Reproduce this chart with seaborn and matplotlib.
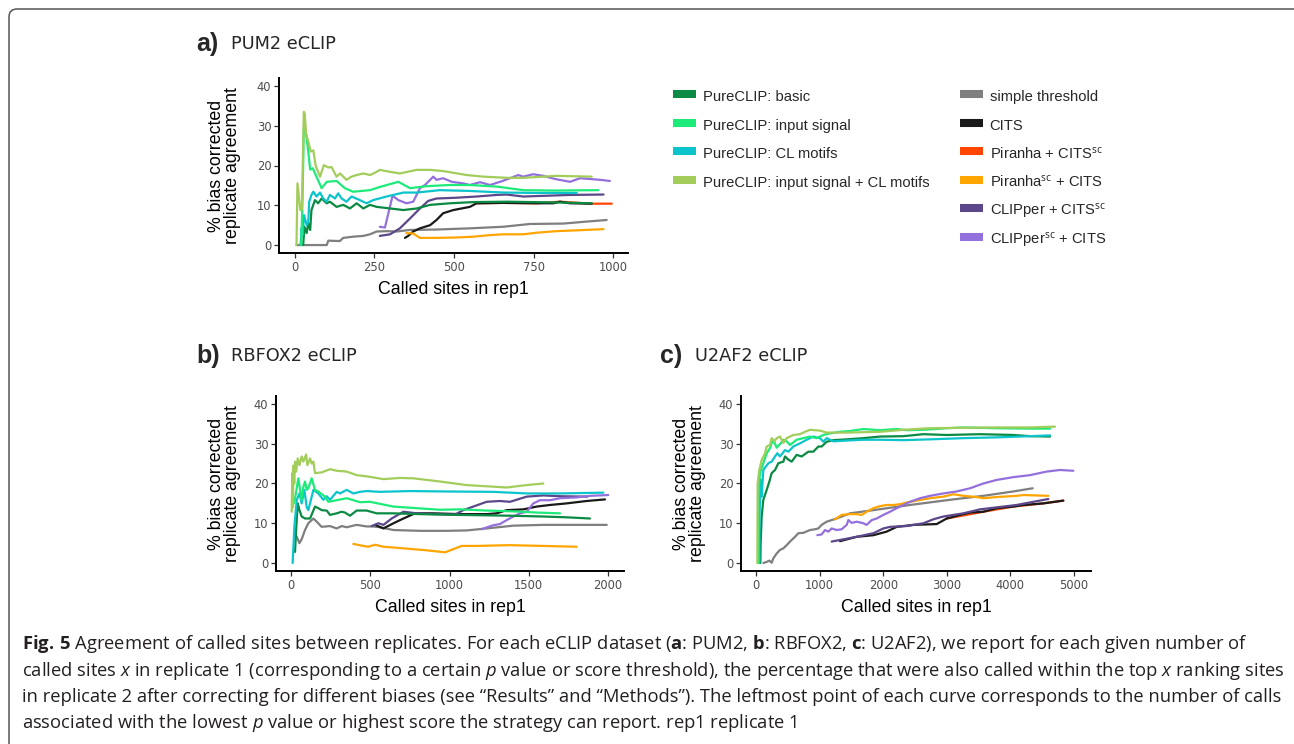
import pandas as pd
import matplotlib
matplotlib.use('Agg')
import matplotlib.pyplot as plt
from matplotlib.lines import Line2D
from matplotlib.patches import FancyBboxPatch
from matplotlib.transforms import IdentityTransform
import seaborn as sns

W, H = 1294, 744

# legend labels and colours
METHODS = ['PureCLIP: basic', 'PureCLIP: input signal', 'PureCLIP: CL motifs',
           'PureCLIP: input signal + CL motifs', 'simple threshold', 'CITS',
           'Piranha + CITS$^{\\mathrm{sc}}$', 'Piranha$^{\\mathrm{sc}}$ + CITS',
           'CLIPper + CITS$^{\\mathrm{sc}}$', 'CLIPper$^{\\mathrm{sc}}$ + CITS']
COLORS = ['#0A8A42', '#1DEB79', '#0BC4CC', '#A3CD5B', '#7F7F7F', '#1A1A1A',
          '#FF4500', '#FFA500', '#5D478B', '#9370DB']
# order in which the curves are drawn (later on top)
DRAW_ORDER = [4, 6, 5, 7, 8, 9, 0, 2, 1, 3]

# ---- a) PUM2 ----
pum2_basic_x = [26, 30, 37, 42, 48, 52, 63, 73, 84, 100, 110, 131, 152, 173, 194, 215, 236, 257, 299, 341, 383, 425, 487, 561, 666, 823, 933]
pum2_basic_y = [0, 4.6, 3.0, 5.5, 3.8, 8.8, 11.3, 10.5, 11.7, 10.5, 10.9, 9.6, 10.1, 9.2, 10.5, 9.2, 10.1, 9.6, 9.2, 8.8, 9.2, 10.1, 10.5, 10.8, 10.9, 10.7, 10.5]
pum2_input_x = [20, 24, 28, 35, 42, 48, 56, 84, 100, 131, 157, 183, 236, 267, 325, 362, 414, 487, 550, 634, 718, 812, 954]
pum2_input_y = [0, 12, 29.3, 28, 23.5, 19, 19.3, 14.3, 15.9, 16.1, 14.3, 13.4, 13.8, 14.6, 15.9, 14.3, 14.8, 15.1, 15.1, 14.7, 13.8, 13.7, 13.8]
pum2_cl_x = [18, 21, 24, 29, 37, 42, 45, 52, 58, 68, 79, 89, 100, 110, 126, 136, 147, 162, 178, 204, 225, 246, 288, 341, 383, 456, 550, 655, 760, 886]
pum2_cl_y = [0, 4.2, 2.5, 7.5, 5.0, 5.9, 10.9, 12.6, 13.4, 12.2, 13.2, 11.7, 10.9, 12.6, 11.7, 13.0, 11.7, 10.9, 12.2, 11.3, 10.5, 11.3, 12.2, 13.2, 13.2, 13.8, 13.6, 13.2, 13.1, 13.1]
pum2_both_x = [5, 8, 17, 22, 28, 31, 35, 42, 50, 58, 65, 79, 91, 105, 115, 131, 142, 162, 178, 194, 215, 236, 257, 267, 299, 330, 383, 425, 466, 540, 592, 666, 718, 823, 933]
pum2_both_y = [0, 15.5, 8.8, 9.0, 33.5, 33.0, 28, 26, 23.5, 23.8, 20, 17.2, 20.1, 19.5, 19.6, 17.2, 18.0, 16.4, 17.2, 17.6, 18.0, 17.6, 18.4, 18.9, 18.4, 18.0, 18.9, 18.9, 18.6, 17.6, 17.2, 16.9, 16.9, 17.4, 17.2]
pum2_simple_x = [5, 100, 105, 141, 152, 183, 215, 236, 257, 288, 320, 362, 445, 550, 655, 739, 844, 917, 980]
pum2_simple_y = [0, 0, 1.1, 1.0, 1.8, 2.1, 2.3, 2.7, 3.4, 3.5, 3.4, 3.8, 3.9, 4.2, 4.6, 5.3, 5.4, 5.9, 6.3]
pum2_cits_x = [346, 356, 372, 393, 425, 445, 466, 498, 524, 550, 571, 655, 760, 812, 833, 865, 933]
pum2_cits_y = [1.8, 2.3, 3.4, 4.2, 5.0, 6.3, 8.0, 8.8, 9.2, 9.6, 10.5, 10.6, 10.5, 10.5, 10.9, 10.5, 10.4]
pum2_piranha_x = [571, 655, 760, 833, 933, 996]
pum2_piranha_y = [10.5, 10.6, 10.5, 10.9, 10.4, 10.4]
pum2_piranha_sc_x = [350, 372, 393, 445, 508, 561, 613, 655, 718, 760, 823, 886, 970]
pum2_piranha_sc_y = [3.0, 2.9, 1.8, 1.8, 1.9, 2.1, 2.5, 2.7, 2.7, 3.1, 3.5, 3.7, 4.0]
pum2_clipper_x = [267, 299, 330, 362, 393, 419, 445, 508, 571, 634, 665, 718, 791, 865, 970]
pum2_clipper_y = [2.3, 2.7, 4.2, 6.7, 9.2, 11.1, 11.7, 11.9, 12.2, 12.6, 12.7, 12.2, 12.4, 12.6, 12.7]
pum2_clipper_sc_x = [267, 283, 307, 325, 351, 372, 393, 409, 435, 445, 466, 493, 529, 550, 582, 613, 645, 676, 702, 718, 749, 781, 818, 865, 896, 928, 959, 990]
pum2_clipper_sc_y = [4.6, 4.4, 12.4, 11.3, 10.5, 10.9, 14.3, 15.1, 17.2, 16.4, 16.8, 15.9, 15.5, 15.1, 15.8, 15.1, 15.9, 16.8, 17.6, 17.2, 17.8, 17.4, 16.6, 15.9, 16.8, 16.6, 16.4, 16.1]

# ---- b) RBFOX2 ----
rbfox2_basic_x = [25, 32, 42, 53, 67, 88, 120, 151, 172, 193, 225, 246, 288, 319, 340, 372, 414, 477, 540, 645, 813, 1066, 1382, 1592, 1739, 1886]
rbfox2_basic_y = [2.8, 8.3, 15.0, 13.3, 11.7, 11.2, 11.2, 14.2, 13.8, 13.3, 13.2, 12.1, 12.5, 12.9, 12.7, 11.9, 13.2, 13.2, 12.5, 12.5, 12.3, 12.1, 11.9, 11.7, 11.5, 11.2]
rbfox2_input_x = [20, 46, 67, 78, 88, 99, 109, 130, 151, 172, 214, 235, 288, 351, 435, 498, 645, 792, 940, 1066, 1234, 1403, 1550, 1697]
rbfox2_input_y = [15, 21.3, 15.9, 19.2, 20.5, 18.4, 18.8, 21.3, 18.4, 18.0, 16.7, 15.4, 15.8, 16.3, 15.3, 15.4, 14.2, 13.8, 13.4, 13.5, 13.2, 13.0, 12.7, 12.5]
rbfox2_cl_x = [10, 21, 36, 53, 67, 84, 99, 109, 141, 172, 204, 225, 246, 288, 309, 351, 393, 435, 477, 561, 750, 961, 1276, 1487, 1697, 1971]
rbfox2_cl_y = [0, 9.1, 15.9, 17.5, 15.0, 18.4, 14.0, 13.3, 18.4, 17.5, 15.9, 16.8, 15.9, 17.9, 17.5, 18.4, 17.5, 17.9, 18.1, 17.9, 18.1, 18.0, 17.9, 17.5, 17.5, 17.7]
rbfox2_both_x = [4, 8, 12, 15, 20, 25, 32, 42, 53, 67, 78, 95, 103, 120, 130, 141, 151, 193, 246, 288, 351, 414, 477, 583, 688, 772, 940, 1108, 1234, 1361, 1487, 1592]
rbfox2_both_y = [12.9, 22.6, 14, 24.5, 20, 25.5, 23.0, 26.3, 24.6, 26.8, 25.5, 27.3, 24.6, 26.3, 25.0, 25.5, 22.6, 22.8, 23.6, 23.2, 23.0, 22.1, 21.8, 21.1, 21.4, 21.3, 20.5, 19.6, 19.3, 19.0, 19.6, 20.0]
rbfox2_simple_x = [36, 53, 67, 88, 109, 141, 162, 193, 246, 288, 320, 351, 414, 477, 519, 561, 646, 814, 982, 1108, 1234, 1403, 1592, 1802, 1992]
rbfox2_simple_y = [6.6, 5.0, 6.0, 8.3, 10.0, 11.2, 10.4, 9.1, 9.3, 8.7, 9.3, 9.0, 9.6, 9.2, 9.2, 9.0, 8.3, 8.1, 8.1, 8.2, 8.7, 9.4, 9.6, 9.6, 9.6]
rbfox2_cits_x = [530, 583, 646, 709, 782, 898, 1066, 1234, 1297, 1361, 1466, 1550, 1634, 1739, 1865, 1981]
rbfox2_cits_y = [9.6, 8.7, 10.0, 11.2, 12.5, 12.5, 12.3, 12.3, 12.5, 13.3, 13.5, 14.2, 14.6, 15.0, 15.6, 16.0]
rbfox2_piranha_sc_x = [393, 456, 488, 530, 583, 709, 856, 972, 1077, 1171, 1276, 1382, 1487, 1802]
rbfox2_piranha_sc_y = [4.8, 4.3, 4.1, 4.6, 4.1, 3.7, 3.2, 2.7, 4.3, 4.3, 4.4, 4.5, 4.4, 4.1]
rbfox2_clipper_x = [509, 551, 583, 635, 709, 793, 898, 1035, 1087, 1150, 1234, 1318, 1382, 1487, 1592, 1697, 1870]
rbfox2_clipper_y = [9.3, 10.0, 9.6, 11.2, 12.9, 12.5, 12.3, 12.2, 13.3, 14.2, 15.4, 15.6, 15.4, 16.7, 17.0, 16.8, 16.7]
rbfox2_clipper_sc_x = [1203, 1245, 1276, 1318, 1361, 1403, 1445, 1487, 1529, 1571, 1634, 1697, 1802, 1886, 2002]
rbfox2_clipper_sc_y = [8.5, 9.1, 9.5, 9.8, 10.8, 11.7, 12.5, 12.9, 15.0, 15.8, 15.8, 16.3, 16.5, 16.9, 17.1]

# ---- c) U2AF2 ----
u2af2_basic_x = [68, 73, 89, 115, 168, 210, 246, 299, 351, 430, 456, 508, 561, 639, 718, 823, 901, 980, 1032, 1111, 1216, 1426, 1688, 1950, 2317, 2631, 2998, 3522, 4046, 4308, 4623]
u2af2_basic_y = [0, 5, 11.7, 15.9, 18.4, 20.5, 22.6, 23.4, 25.1, 25.5, 26.8, 26.0, 25.5, 27.2, 26.8, 28.0, 28.0, 29.3, 29.3, 30.5, 30.9, 31.1, 31.4, 31.8, 31.9, 32.4, 32.2, 32.4, 32.2, 31.9, 31.8]
u2af2_input_x = [37, 40, 63, 115, 168, 220, 246, 273, 325, 377, 430, 482, 535, 639, 744, 849, 954, 1059, 1163, 1321, 1478, 1688, 1950, 2212, 2369, 2631, 2998, 3260, 3784, 4308, 4623]
u2af2_input_y = [0, 18, 22.6, 25.1, 27.6, 28.9, 30.1, 31.0, 29.0, 29.9, 31.0, 30.6, 29.7, 31.0, 31.4, 31.8, 31.4, 32.2, 32.6, 33.0, 33.2, 33.7, 33.4, 33.7, 33.4, 33.5, 33.9, 34.1, 33.9, 33.8, 33.8]
u2af2_cl_x = [52, 55, 73, 89, 115, 194, 246, 299, 335, 377, 456, 508, 587, 692, 797, 901, 1006, 1059, 1111, 1216, 1426, 1688, 1950, 2317, 2736, 3260, 3784, 4308, 4623]
u2af2_cl_y = [0, 12, 21.0, 16.7, 23.4, 25.1, 25.5, 26.8, 27.6, 26.8, 28.4, 28.0, 29.3, 30.1, 31.0, 31.8, 31.4, 30.5, 31.4, 30.6, 30.8, 31.0, 31.0, 30.9, 31.1, 31.4, 31.6, 31.9, 32.1]
u2af2_both_x = [21, 26, 52, 89, 142, 168, 220, 246, 288, 325, 377, 430, 482, 587, 692, 770, 849, 1006, 1111, 1426, 1688, 1950, 2317, 2736, 3260, 3784, 4308, 4701]
u2af2_both_y = [0, 20, 23.4, 25.9, 27.6, 29.3, 29.7, 31.4, 30.6, 31.4, 31.8, 30.2, 31.4, 32.2, 32.4, 33.0, 33.5, 33.3, 32.8, 32.8, 32.9, 33.0, 33.5, 33.9, 34.0, 34.1, 34.1, 34.3]
u2af2_simple_x = [115, 168, 210, 246, 273, 325, 377, 430, 482, 535, 613, 666, 744, 849, 928, 980, 1032, 1111, 1190, 1268, 1478, 1845, 2421, 3050, 3574, 4046, 4350]
u2af2_simple_y = [0, 0.3, 0.6, 0.1, 1.2, 2.4, 3.3, 3.7, 4.5, 5.4, 6.6, 7.5, 7.6, 8.3, 8.5, 8.7, 9.6, 10.4, 10.8, 11.2, 12.5, 13.3, 14.6, 15.9, 16.9, 18.0, 18.8]
u2af2_cits_x = [1321, 1583, 1845, 2054, 2212, 2474, 2841, 2998, 3208, 3365, 3574, 3784, 4046, 4203, 4518, 4832]
u2af2_cits_y = [5.5, 6.6, 7.0, 7.9, 9.1, 9.6, 9.8, 11.2, 12.1, 12.7, 12.9, 13.8, 14.2, 14.6, 15.0, 15.7]
u2af2_piranha_x = [2998, 3574, 4046, 4518, 4832]
u2af2_piranha_y = [11.2, 12.9, 14.2, 15.0, 15.7]
u2af2_piranha_sc_x = [1242, 1347, 1478, 1583, 1661, 1740, 1845, 1950, 2054, 2159, 2264, 2369, 2526, 2736, 2945, 3103, 3260, 3470, 3574, 3784, 4098, 4203, 4596]
u2af2_piranha_sc_y = [11.0, 12.1, 12.3, 12.3, 12.1, 12.9, 13.8, 14.3, 14.6, 14.6, 14.8, 15.2, 15.7, 16.3, 16.7, 17.3, 16.9, 16.6, 16.3, 16.6, 16.9, 17.1, 16.9]
u2af2_clipper_x = [1190, 1321, 1583, 1845, 2002, 2107, 2369, 2631, 2788, 2945, 3260, 3522, 3784, 4098, 4361, 4596]
u2af2_clipper_y = [5.4, 5.8, 6.6, 7.5, 8.7, 9.1, 9.3, 10.0, 11.0, 11.7, 12.5, 13.5, 14.0, 14.6, 15.4, 16.1]
u2af2_clipper_sc_x = [964, 1032, 1085, 1137, 1190, 1268, 1347, 1426, 1452, 1504, 1583, 1688, 1740, 1819, 1897, 2002, 2107, 2212, 2317, 2421, 2579, 2736, 2945, 3155, 3365, 3574, 3784, 4046, 4308, 4570, 4780, 4989]
u2af2_clipper_sc_y = [7.0, 7.2, 8.3, 7.9, 8.7, 8.3, 8.5, 9.6, 10.8, 10.1, 10.4, 10.0, 9.6, 10.8, 11.2, 12.1, 12.9, 13.8, 14.6, 15.4, 16.3, 16.9, 17.5, 18.0, 18.8, 20.0, 20.9, 21.6, 22.1, 23.0, 23.4, 23.2]

CAPTION = [
    '$\\mathbf{Fig.\\,5}$ Agreement of called sites between replicates. For each eCLIP dataset ($\\mathbf{a}$: PUM2, $\\mathbf{b}$: RBFOX2, $\\mathbf{c}$: U2AF2), we report for each given number of',
    'called sites $\\mathit{x}$ in replicate 1 (corresponding to a certain $\\mathit{p}$ value or score threshold), the percentage that were also called within the top $\\mathit{x}$ ranking sites',
    'in replicate 2 after correcting for different biases (see \u201cResults\u201d and \u201cMethods\u201d). The leftmost point of each curve corresponds to the number of calls',
    'associated with the lowest $\\mathit{p}$ value or highest score the strategy can report. rep1 replicate 1',
]


def make_frame(series):
    parts = []
    for idx, xs, ys in series:
        parts.append(pd.DataFrame({'sites': xs, 'agreement': ys, 'method': METHODS[idx]}))
    return pd.concat(parts, ignore_index=True)


pum2 = make_frame([
    (0, pum2_basic_x, pum2_basic_y), (1, pum2_input_x, pum2_input_y),
    (2, pum2_cl_x, pum2_cl_y), (3, pum2_both_x, pum2_both_y),
    (4, pum2_simple_x, pum2_simple_y), (5, pum2_cits_x, pum2_cits_y),
    (6, pum2_piranha_x, pum2_piranha_y), (7, pum2_piranha_sc_x, pum2_piranha_sc_y),
    (8, pum2_clipper_x, pum2_clipper_y), (9, pum2_clipper_sc_x, pum2_clipper_sc_y)])
rbfox2 = make_frame([
    (0, rbfox2_basic_x, rbfox2_basic_y), (1, rbfox2_input_x, rbfox2_input_y),
    (2, rbfox2_cl_x, rbfox2_cl_y), (3, rbfox2_both_x, rbfox2_both_y),
    (4, rbfox2_simple_x, rbfox2_simple_y), (5, rbfox2_cits_x, rbfox2_cits_y),
    (7, rbfox2_piranha_sc_x, rbfox2_piranha_sc_y),
    (8, rbfox2_clipper_x, rbfox2_clipper_y), (9, rbfox2_clipper_sc_x, rbfox2_clipper_sc_y)])
u2af2 = make_frame([
    (0, u2af2_basic_x, u2af2_basic_y), (1, u2af2_input_x, u2af2_input_y),
    (2, u2af2_cl_x, u2af2_cl_y), (3, u2af2_both_x, u2af2_both_y),
    (4, u2af2_simple_x, u2af2_simple_y), (5, u2af2_cits_x, u2af2_cits_y),
    (6, u2af2_piranha_x, u2af2_piranha_y), (7, u2af2_piranha_sc_x, u2af2_piranha_sc_y),
    (8, u2af2_clipper_x, u2af2_clipper_y), (9, u2af2_clipper_sc_x, u2af2_clipper_sc_y)])

sns.set_theme(style='ticks')
plt.rcParams['font.family'] = ['Liberation Sans', 'DejaVu Sans']
plt.rcParams['mathtext.fontset'] = 'custom'
plt.rcParams['mathtext.rm'] = 'Open Sans'
plt.rcParams['mathtext.it'] = 'Open Sans:italic'
plt.rcParams['mathtext.bf'] = 'Open Sans:bold'

palette = dict(zip(METHODS, COLORS))


def px_rect(left, top, right, bottom):
    return [left / W, 1 - bottom / H, (right - left) / W, (bottom - top) / H]


def draw_panel(fig, rect, df, xlim, xticks, letter, name, title_xy, ylab_x):
    ax = fig.add_axes(px_rect(*rect))
    order = [METHODS[i] for i in DRAW_ORDER if METHODS[i] in set(df['method'])]
    sns.lineplot(data=df, x='sites', y='agreement', hue='method', hue_order=order,
                 palette=palette, estimator=None, sort=False, linewidth=1.6,
                 legend=False, ax=ax)
    ax.set_xlim(*xlim)
    ax.set_ylim(-2, 42)
    ax.set_xticks(xticks)
    ax.set_yticks([0, 10, 20, 30, 40])
    sns.despine(ax=ax)
    for sp in ['left', 'bottom']:
        ax.spines[sp].set_linewidth(1.4)
        ax.spines[sp].set_color('black')
    ax.tick_params(length=3.5, width=0.9, color='#333333', labelsize=8.3,
                   labelcolor='#4D4D4D', pad=2)
    for lab in ax.get_xticklabels() + ax.get_yticklabels():
        lab.set_fontfamily('DejaVu Sans')
    ax.set_xlabel('Called sites in rep1', fontsize=12.8, color='black')
    ax.set_ylabel('% bias corrected\nreplicate agreement', fontsize=12.8,
                  color='black', linespacing=0.95)
    ax.xaxis.set_label_coords(0.5, -0.16)
    ax.yaxis.set_label_coords(ylab_x, 0.5)
    tx, ty = title_xy
    fig.text(tx / W, 1 - ty / H, letter, fontsize=18, fontweight='bold',
             va='center', ha='left')
    fig.text((tx + 35) / W, 1 - ty / H, name, fontsize=12.8,
             family='DejaVu Sans', va='center', ha='left')
    return ax


fig = plt.figure(figsize=(W / 100, H / 100), dpi=100)

draw_panel(fig, (279, 78, 628, 253), pum2, (-50, 1047), [0, 250, 500, 750, 1000],
           'a)', 'PUM2 eCLIP', (196, 44), -0.109)
draw_panel(fig, (276, 396, 624, 571), rbfox2, (-95, 2101), [0, 500, 1000, 1500, 2000],
           'b)', 'RBFOX2 eCLIP', (196, 356), -0.10)
draw_panel(fig, (741, 396, 1091, 571), u2af2, (-236, 5267), [0, 1000, 2000, 3000, 4000, 5000],
           'c)', 'U2AF2 eCLIP', (660, 356), -0.10)

# legend in two columns; thick butt-capped lines act as the colour bars so
# every row gets the same height
handles = [Line2D([], [], color=c, lw=5.8, solid_capstyle='butt') for c in COLORS]
leg_kw = dict(loc='upper left', frameon=False, fontsize=10.6, handlelength=1.56,
              handleheight=1.6, handletextpad=0.45, labelspacing=0.65,
              borderpad=0, borderaxespad=0)
fig.legend(handles[:4], METHODS[:4], bbox_to_anchor=(673 / W, 1 - 87 / H), **leg_kw)
fig.legend(handles[4:], METHODS[4:], bbox_to_anchor=(960 / W, 1 - 87 / H), **leg_kw)

# caption
for i, line in enumerate(CAPTION):
    fig.text(22 / W, 1 - (644 + 26.5 * i) / H, line, fontsize=13.2,
             family='Open Sans', va='center', ha='left', color='#231F20')

# rounded frame around the figure
frame = FancyBboxPatch((9, -40), 1320, H - 9 + 40,
                       boxstyle='round,pad=0,rounding_size=8',
                       transform=IdentityTransform(), facecolor='none',
                       edgecolor='#555555', linewidth=1.1)
fig.add_artist(frame)

fig.savefig('out.png', dpi=100)
